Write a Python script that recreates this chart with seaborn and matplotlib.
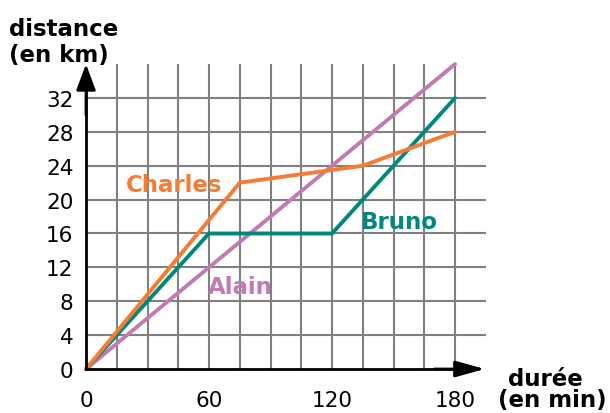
import numpy as np
import pandas as pd
import matplotlib
matplotlib.use('Agg')
import matplotlib.pyplot as plt
import seaborn as sns

# durée (min) / distance (km) for each cyclist
alain_t = [0, 180]
alain_d = [0, 36]
bruno_t = [0, 60, 120, 180]
bruno_d = [0, 16, 16, 32]
charles_t = [0, 75, 135, 180]
charles_d = [0, 22, 24, 28]

x_ticks = [0, 60, 120, 180]
y_ticks = [0, 4, 8, 12, 16, 20, 24, 28, 32]

colors = {'Alain': '#c07ab4', 'Bruno': '#00897a', 'Charles': '#f47c34'}

df = pd.concat([
    pd.DataFrame({'t': alain_t, 'd': alain_d, 'nom': 'Alain'}),
    pd.DataFrame({'t': bruno_t, 'd': bruno_d, 'nom': 'Bruno'}),
    pd.DataFrame({'t': charles_t, 'd': charles_d, 'nom': 'Charles'}),
])

sns.set_style('white')
plt.rcParams['font.family'] = ['DejaVu Sans']
plt.rcParams['text.color'] = 'black'

fig = plt.figure(figsize=(6.1, 4.14), dpi=100)
ax = fig.add_axes([0, 0, 1, 1])
# 2.05 px per minute, 8.47 px per km, origin at pixel (86, 370)
ax.set_xlim(-86 / 2.05, (610 - 86) / 2.05)
ax.set_ylim(-(414 - 370) / 8.469, 370 / 8.469)

# grid
ax.vlines(np.arange(15, 181, 15), 0, 36, color='#808080', lw=1.5, zorder=1)
ax.hlines(np.arange(4, 33, 4), 0, 195, color='#808080', lw=1.5, zorder=1)

sns.lineplot(data=df, x='t', y='d', hue='nom', palette=colors, sort=False,
             estimator=None, lw=2.8, legend=False, ax=ax, zorder=3)

# axes with arrows
for s in ['top', 'right']:
    ax.spines[s].set_visible(False)
for s in ['left', 'bottom']:
    ax.spines[s].set_position(('data', 0))
    ax.spines[s].set_linewidth(2)
    ax.spines[s].set_color('black')
    ax.spines[s].set_zorder(4)
ax.spines['left'].set_bounds(0, 34)
ax.spines['bottom'].set_bounds(0, 183)
ax.annotate('', xy=(0, 36), xytext=(0, 30),
            arrowprops=dict(arrowstyle='-|>,head_length=1.6,head_width=0.6',
                            color='black', lw=2, mutation_scale=10,
                            shrinkA=0, shrinkB=0), zorder=5)
ax.annotate('', xy=(194.5, 0), xytext=(170, 0),
            arrowprops=dict(arrowstyle='-|>,head_length=1.8,head_width=0.5',
                            color='black', lw=2, mutation_scale=10,
                            shrinkA=0, shrinkB=0), zorder=5)

ax.set_xticks(x_ticks)
ax.set_yticks(y_ticks)
ax.tick_params(axis='both', direction='inout', length=6, width=2,
               labelsize=15.5, colors='black')
ax.tick_params(axis='x', pad=12)
ax.tick_params(axis='y', pad=6)
ax.set_xlabel('')
ax.set_ylabel('')

lab = dict(fontsize=16.5, fontweight='bold')
ax.text(19.5, 21.8, 'Charles', color=colors['Charles'], va='center', **lab)
ax.text(134, 17.4, 'Bruno', color=colors['Bruno'], va='center', **lab)
ax.text(59.5, 9.8, 'Alain', color=colors['Alain'], va='center', **lab)

fig.text(9 / 610, 1 - 36 / 414, 'distance', va='baseline', ha='left', **lab)
fig.text(9 / 610, 1 - 62 / 414, '(en km)', va='baseline', ha='left', **lab)
fig.text(508 / 610, 1 - 386 / 414, 'durée', va='baseline', ha='left', **lab)
fig.text(498 / 610, 1 - 407 / 414, '(en min)', va='baseline', ha='left', **lab)

fig.savefig('out.png', dpi=100)
